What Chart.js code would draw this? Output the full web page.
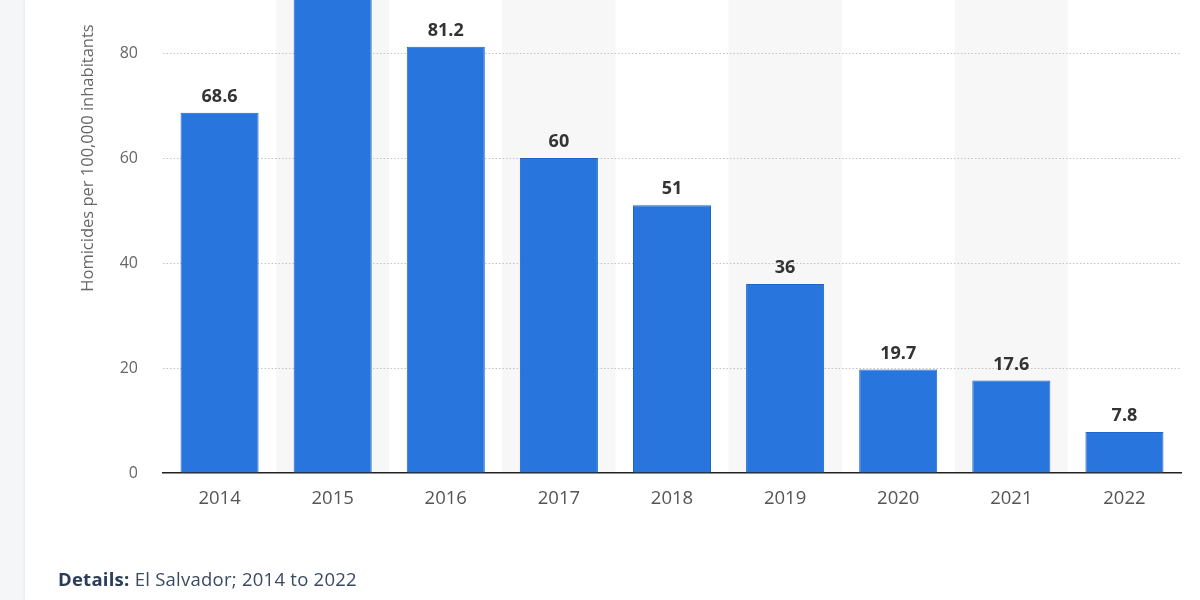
<!DOCTYPE html>
<html>
<head>
<meta charset="utf-8">
<script src="https://cdn.jsdelivr.net/npm/chart.js@4"></script>
<style>
  html, body { margin: 0; padding: 0; width: 1200px; height: 600px; overflow: hidden; background: #f4f6f8; }
  .card { position: absolute; left: 25px; top: 0; width: 1175px; height: 600px; background: #ffffff; box-shadow: 0 0 4px rgba(0, 0, 0, 0.09); }
  .chart-wrap { position: absolute; left: 0; top: -157px; width: 1200px; height: 757px; }
  .details { position: absolute; left: 58px; top: 569px; font-family: "Open Sans", sans-serif; font-size: 18.5px; letter-spacing: 0.25px; line-height: 20px; color: #3a4a61; white-space: nowrap; }
  .details b { color: #2b3d58; font-weight: 700; }
</style>
</head>
<body>
<div class="card"></div>
<div class="chart-wrap"><canvas id="chart-homicides"></canvas></div>
<div class="details"><b>Details:</b> El Salvador; 2014 to 2022</div>

<script>
const years = ['2014', '2015', '2016', '2017', '2018', '2019', '2020', '2021', '2022']
const homicideRate = [68.6, 103, 81.2, 60, 51, 36, 19.7, 17.6, 7.8]
const yTicks = [0, 20, 40, 60, 80, 100, 120]

const font = '"Open Sans", sans-serif'

// light grey band behind every second year
const columnBands = {
    id: 'columnBands',
    beforeDraw(chart) {
        const { ctx, chartArea, scales } = chart
        const step = scales.x.width / years.length
        ctx.save()
        ctx.fillStyle = '#f7f7f7'
        years.forEach((year, i) => {
            if (i % 2 === 1) {
                const cx = scales.x.getPixelForValue(i)
                ctx.fillRect(cx - step / 2, chartArea.top, step, chartArea.bottom - chartArea.top)
            }
        })
        ctx.restore()
    }
}

// value above each bar
const barValues = {
    id: 'barValues',
    afterDatasetsDraw(chart) {
        const { ctx } = chart
        const meta = chart.getDatasetMeta(0)
        ctx.save()
        ctx.font = 'bold 18px ' + font
        ctx.fillStyle = '#333333'
        ctx.textAlign = 'center'
        ctx.textBaseline = 'middle'
        meta.data.forEach((bar, i) => {
            ctx.fillText(String(homicideRate[i]), bar.x, bar.y - 16)
        })
        ctx.restore()
    }
}

const init = () => {

    const chartHomicides = document.getElementById('chart-homicides')
    const chartContext = chartHomicides.getContext('2d')

    new Chart(chartContext, {
        type: 'bar',
        data: {
            labels: years,
            datasets: [{
                data: homicideRate,
                backgroundColor: '#2876dd',
                borderColor: '#1d65c8',
                borderWidth: 1,
                categoryPercentage: 1,
                barPercentage: 0.69
            }]
        },
        options: {
            responsive: true,
            maintainAspectRatio: false,
            animation: false,
            layout: {
                padding: { left: 78, right: 19, top: 0, bottom: 0 }
            },
            plugins: {
                legend: { display: false },
                tooltip: { enabled: false }
            },
            scales: {
                x: {
                    grid: { display: false, drawTicks: false },
                    border: { display: true, color: '#222222', width: 1.5 },
                    ticks: {
                        color: '#555555',
                        padding: 15,
                        font: { family: font, size: 18.5 }
                    },
                    afterFit(scale) { scale.height = 127 }
                },
                y: {
                    min: 0,
                    max: yTicks[yTicks.length - 1],
                    afterBuildTicks(scale) { scale.ticks = yTicks.map(v => ({ value: v })) },
                    grid: {
                        drawTicks: false,
                        color: ctx => ctx.tick && ctx.tick.value === 0 ? 'rgba(0,0,0,0)' : '#c2c2c2',
                        lineWidth: 1
                    },
                    border: { display: false, dash: [1.5, 2] },
                    ticks: {
                        color: '#666666',
                        padding: 25,
                        font: { family: font, size: 16 }
                    },
                    title: {
                        display: true,
                        text: 'Homicides per 100,000 inhabitants',
                        color: '#666666',
                        padding: 0,
                        font: { family: font, size: 16.5 }
                    },
                    afterFit(scale) {
                        scale.width = 85
                        // the chart is cropped at the top, so no room kept for the top tick label
                        scale.paddingTop = 0
                        scale.paddingBottom = 0
                    }
                }
            }
        },
        plugins: [columnBands, barValues]
    })

}

init()
</script>
</body>
</html>
